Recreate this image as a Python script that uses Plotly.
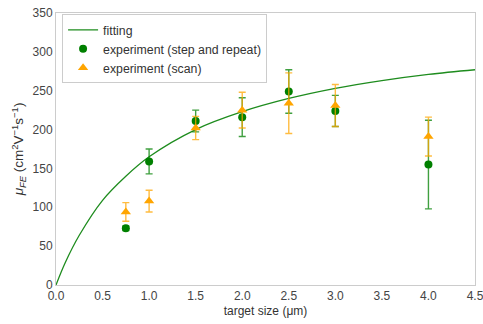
import plotly.graph_objects as go

# fitted curve, values
fit_x = [0, 0.1, 0.25, 0.5, 0.75, 1.0, 1.5, 2.0, 2.5, 3.0, 3.5, 4.0, 4.5]
fit_y = [0, 29, 64, 109, 140, 165, 200, 223, 240, 253, 263, 271, 277]

# experiment (step and repeat)
sr_x = [0.75, 1.0, 1.5, 2.0, 2.5, 3.0, 4.0]
sr_y = [73, 159, 211, 216, 249, 224, 155]
sr_err = [3, 16, 14, 25, 28, 20, 57]

# experiment (scan)
sc_x = [0.75, 1.0, 1.5, 2.0, 2.5, 3.0, 4.0]
sc_y = [94, 108, 202, 225, 234, 231, 191]
sc_err = [12, 14, 15, 23, 39, 27, 25]

FONT = "Liberation Sans, Arial, sans-serif"
GREEN = "#008000"
ORANGE = "#FFA500"

fig = go.Figure()
fig.add_trace(go.Scatter(
    x=fit_x, y=fit_y, mode="lines", name="fitting",
    line=dict(color="#1e8c1e", width=1.3, shape="spline"),
))
fig.add_trace(go.Scatter(
    x=sr_x, y=sr_y, mode="markers", name="experiment (step and repeat)",
    marker=dict(symbol="circle", size=8, color=GREEN),
    error_y=dict(type="data", array=sr_err, visible=True,
                 color="rgba(0,128,0,0.75)", thickness=1.4, width=3.5),
))
fig.add_trace(go.Scatter(
    x=sc_x, y=sc_y, mode="markers", name="experiment (scan)",
    marker=dict(symbol="triangle-up", size=9, color=ORANGE),
    error_y=dict(type="data", array=sc_err, visible=True,
                 color="rgba(255,165,0,0.75)", thickness=1.4, width=3.5),
))

axis_common = dict(
    showgrid=False, zeroline=False, showline=True, mirror=True,
    linecolor="#cccccc", linewidth=1, ticks="", automargin=False,
    ticklabeloverflow="allow",
    tickfont=dict(family=FONT, size=12, color="#444444"),
)

fig.update_layout(
    width=483, height=324,
    margin=dict(l=56, r=8, t=13, b=39),
    paper_bgcolor="white", plot_bgcolor="white",
    font=dict(family=FONT, size=12, color="#333333"),
    showlegend=True,
    legend=dict(
        x=0.0145, y=0.995, xanchor="left", yanchor="top",
        bgcolor="white", bordercolor="#cccccc", borderwidth=1,
        font=dict(family=FONT, size=12.3, color="#333333"),
        tracegroupgap=0,
    ),
    xaxis=dict(
        range=[0, 4.5], dtick=0.5, tick0=0, tickformat=".1f",
        title=dict(text="target size (μm)", standoff=4,
                   font=dict(family=FONT, size=12, color="#333333")),
        **axis_common,
    ),
    yaxis=dict(
        range=[0, 350], dtick=50, tick0=0,
        title=dict(text="<i>μ<sub>FE</sub></i> (cm<sup>2</sup>V<sup>−1</sup>s<sup>−1</sup>)",
                   standoff=5,
                   font=dict(family=FONT, size=13.5, color="#333333")),
        **axis_common,
    ),
)

fig.write_html("out.html",
               config={"displayModeBar": False},
               post_script="document.body.style.margin='0';document.body.style.overflow='hidden';")
